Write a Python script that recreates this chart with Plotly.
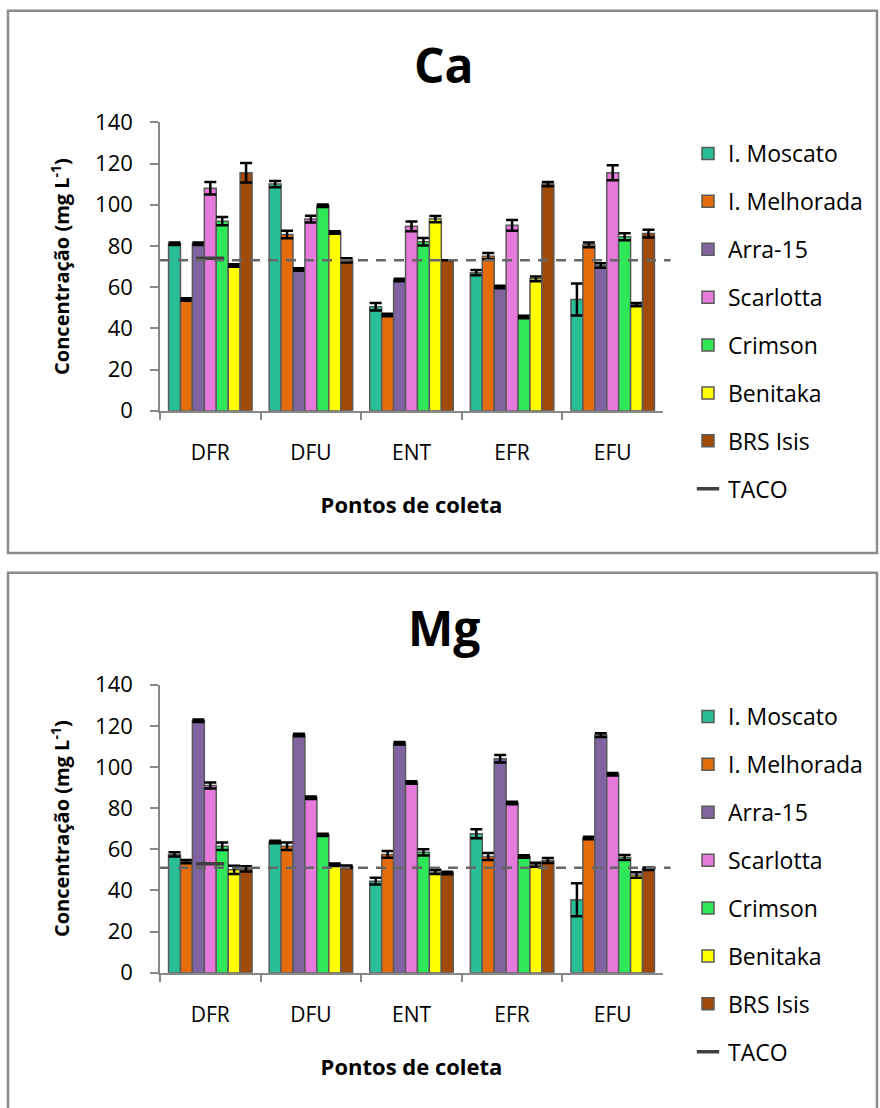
import plotly.graph_objects as go

categories = ["DFR", "DFU", "ENT", "EFR", "EFU"]
cultivars = ["I. Moscato", "I. Melhorada", "Arra-15", "Scarlotta", "Crimson", "Benitaka", "BRS Isis"]
colors = ["#29BF96", "#E46C0A", "#8064A2", "#E679DC", "#2EE85A", "#FFFF00", "#A04B0A"]

# Ca values (mg L-1), one list per cultivar across categories
ca_moscato = [81, 110, 50.5, 67, 54]
ca_melhorada = [54, 85.5, 46.5, 75, 80.5]
ca_arra = [81, 68.5, 63.5, 60, 70.5]
ca_scarlotta = [108, 93, 89.5, 90, 115.5]
ca_crimson = [92, 99.5, 82, 45.5, 84.5]
ca_benitaka = [70.5, 86.5, 93, 64, 51.5]
ca_brs = [115.5, 73, 73, 110, 86]

ca_moscato_err = [0.6, 1.5, 1.8, 1.3, 7.8]
ca_melhorada_err = [0.6, 1.8, 0.6, 1.5, 1.1]
ca_arra_err = [0.6, 0.6, 0.6, 0.6, 1.1]
ca_scarlotta_err = [3.0, 1.6, 2.4, 2.6, 3.6]
ca_crimson_err = [2.0, 0.6, 1.8, 0.6, 1.7]
ca_benitaka_err = [0.6, 0.6, 1.5, 1.2, 0.8]
ca_brs_err = [4.7, 1.0, 0.0, 1.0, 1.9]

# Mg values (mg L-1)
mg_moscato = [57.5, 63.5, 44.5, 67.5, 35.5]
mg_melhorada = [54, 61.5, 57.5, 56.5, 65.5]
mg_arra = [122.5, 115.5, 111.5, 104, 115.5]
mg_scarlotta = [91, 85, 92.5, 82.5, 96.5]
mg_crimson = [61.5, 67, 58.5, 56.5, 56]
mg_benitaka = [50, 52.5, 49, 52.5, 47.5]
mg_brs = [50.5, 51.5, 48.5, 54.5, 50.5]

mg_moscato_err = [1.0, 0.6, 1.6, 2.2, 8.0]
mg_melhorada_err = [0.8, 1.8, 1.6, 1.7, 0.6]
mg_arra_err = [0.6, 0.6, 0.6, 1.8, 0.9]
mg_scarlotta_err = [1.5, 0.6, 0.6, 0.6, 0.6]
mg_crimson_err = [1.8, 0.6, 1.5, 0.6, 1.2]
mg_benitaka_err = [2.0, 0.6, 1.0, 1.0, 1.3]
mg_brs_err = [1.3, 0.6, 0.6, 1.2, 0.6]

# TACO reference values
taco_ca = 74
taco_mg = 53
taco_line_ca = 73
taco_line_mg = 51

ca_series = [ca_moscato, ca_melhorada, ca_arra, ca_scarlotta, ca_crimson, ca_benitaka, ca_brs]
ca_errs = [ca_moscato_err, ca_melhorada_err, ca_arra_err, ca_scarlotta_err, ca_crimson_err, ca_benitaka_err, ca_brs_err]
mg_series = [mg_moscato, mg_melhorada, mg_arra, mg_scarlotta, mg_crimson, mg_benitaka, mg_brs]
mg_errs = [mg_moscato_err, mg_melhorada_err, mg_arra_err, mg_scarlotta_err, mg_crimson_err, mg_benitaka_err, mg_brs_err]

FONT = "Open Sans"
W, H = 880, 1108

fig = go.Figure()

panels = [
    ("x", "y", "legend", ca_series, ca_errs, taco_ca, "ca"),
    ("x2", "y2", "legend2", mg_series, mg_errs, taco_mg, "mg"),
]
for xa, ya, lg, series, errs, taco, tag in panels:
    for name, vals, err, col in zip(cultivars, series, errs, colors):
        fig.add_trace(go.Bar(
            x=categories, y=vals, name=name, xaxis=xa, yaxis=ya, legend=lg,
            legendgroup=tag + name,
            marker=dict(color=col, line=dict(color="#5a5a5a", width=1.5)),
            error_y=dict(type="data", array=err, visible=True, color="black",
                         thickness=2.5, width=6),
        ))
    fig.add_trace(go.Scatter(
        x=[categories[0]], y=[taco], name="TACO", mode="markers",
        xaxis=xa, yaxis=ya, legend=lg, legendgroup=tag + "TACO",
        marker=dict(symbol="line-ew", size=20, color="#404040",
                    line=dict(color="#404040", width=3.5)),
    ))

def py(px):
    return 1 - px / H

xdom = [160 / W, 663 / W]
axis_common = dict(showline=True, linecolor="#888888", linewidth=1.5,
                   ticks="outside", tickcolor="#888888", ticklen=8, tickwidth=1.5,
                   showgrid=False, zeroline=False)

for i, (y0px, y1px) in enumerate([(410.7, 122.3), (972.7, 684.7)]):
    sfx = "" if i == 0 else "2"
    fig.update_layout(**{
        "xaxis" + sfx: dict(domain=xdom, anchor="y" + sfx, tickson="boundaries",
                            tickfont=dict(family=FONT, size=21, color="black"),
                            ticklabelstandoff=22,
                            title=dict(text="<b>Pontos de coleta</b>",
                                       font=dict(family=FONT, size=22, color="black"),
                                       standoff=33),
                            **axis_common),
        "yaxis" + sfx: dict(domain=[py(y0px), py(y1px)], anchor="x" + sfx,
                            range=[0, 140], dtick=20,
                            tickfont=dict(family=FONT, size=22, color="black"),
                            ticklabelstandoff=13,
                            title=dict(text="<b>Concentração (mg L<sup>-1</sup>)</b>",
                                       font=dict(family=FONT, size=20, color="black"),
                                       standoff=20),
                            **axis_common),
    })

legend_common = dict(x=688 / W, xanchor="left", yanchor="top",
                     font=dict(family=FONT, size=23, color="black"),
                     tracegroupgap=15, traceorder="grouped", bgcolor="rgba(0,0,0,0)")
fig.update_layout(
    legend=dict(y=py(132), **legend_common),
    legend2=dict(y=py(695), **legend_common),
)

shapes = []
for (t, b) in [(10.7, 553), (572.7, 1112)]:
    shapes.append(dict(type="rect", xref="paper", yref="paper", x0=8 / W, x1=877 / W,
                       y0=py(b), y1=py(t), line=dict(color="#8c8c8c", width=2.5),
                       fillcolor="rgba(0,0,0,0)", layer="below"))
for xa, ya, val in [("x", "y", taco_line_ca), ("x2", "y2", taco_line_mg)]:
    shapes.append(dict(type="line", xref=xa + " domain", yref=ya, x0=0, x1=1.015,
                       y0=val, y1=val, line=dict(color="#666666", width=2.5, dash="10px,8px"),
                       layer="above"))

annotations = [
    dict(text="<b>Ca</b>", x=0.505, y=py(64), xref="paper", yref="paper", showarrow=False,
         xanchor="center", yanchor="middle", font=dict(family=FONT, size=48, color="black")),
    dict(text="<b>Mg</b>", x=0.505, y=py(627), xref="paper", yref="paper", showarrow=False,
         xanchor="center", yanchor="middle", font=dict(family=FONT, size=48, color="black")),
]

fig.update_layout(
    width=W, height=H, margin=dict(l=0, r=0, t=0, b=0, pad=0, autoexpand=False),
    paper_bgcolor="white", plot_bgcolor="white",
    barmode="group", bargap=0.17, bargroupgap=0,
    shapes=shapes, annotations=annotations,
    font=dict(family=FONT, color="black"),
)

fig.write_html("out.html", config={"displayModeBar": False},
               post_script="document.body.style.margin='0';")
